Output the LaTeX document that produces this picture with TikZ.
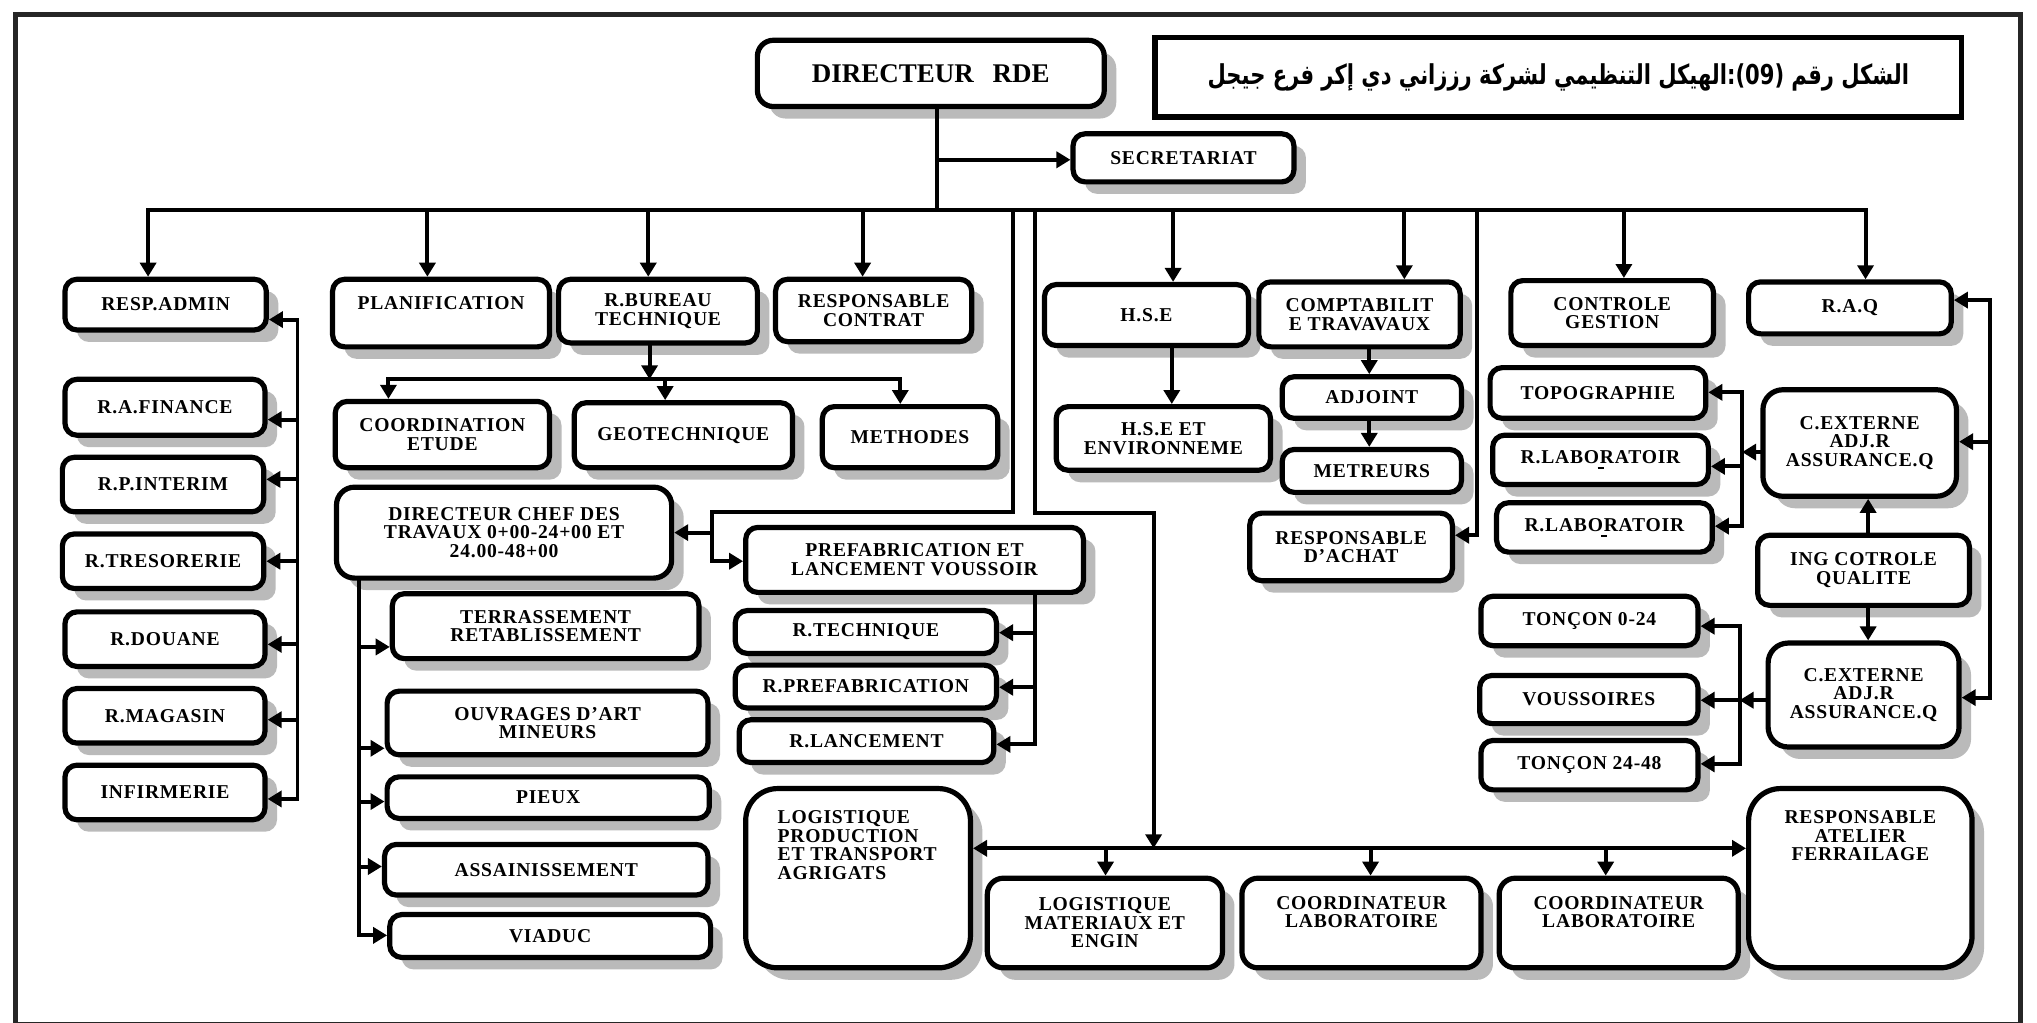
\documentclass[tikz,border=0pt]{standalone}
\usepackage{fontspec}
\setmainfont{Liberation Serif}
\newfontfamily\boxfont[LetterSpace=4]{Liberation Serif}
\newfontfamily\arabicfont[Script=Arabic]{DejaVu Sans}
\TeXXeTstate=1
\usetikzlibrary{arrows.meta,shadows}
% text block pinned to the top of a box: width, height (in picture units), top skip, content
\newcommand\topfill[4]{\parbox[c][\dimexpr0.65pt*#2\relax][t]{\dimexpr0.65pt*#1\relax}{\vspace*{#3}#4}}
\tikzset{
  box/.style={draw, line width=2.6pt, rounded corners=6pt, fill=white, align=center, inner sep=0pt,
    font=\boxfont\bfseries\fontsize{9.8}{9.3}\selectfont,
    drop shadow={shadow xshift=6pt, shadow yshift=-6pt, fill=black!27, opacity=1}},
  sz/.style 2 args={minimum width=#1*0.65pt, minimum height=#2*0.65pt},
  conn/.style={line width=2pt, line cap=rect},
  arr/.style={conn, -{Triangle[length=7pt,width=8pt]}},
  arrs/.style={conn, {Triangle[length=7pt,width=8pt]}-{Triangle[length=7pt,width=8pt]}},
}

\begin{document}
\begin{tikzpicture}[x=0.65pt,y=-0.65pt]
\useasboundingbox (0,0) rectangle (1568,787);
\fill[white] (0,0) rectangle (1568,787);
\draw[line width=2.6pt, black!85] (12,11) rectangle (1555,789);

% ---------- head ----------
\node[box, sz={267}{51}, rounded corners=8pt, font=\bfseries\fontsize{13.5}{15}\selectfont] (dir) at (716.5,56.5) {DIRECTEUR\hspace{0.7em}RDE};
\node[draw, line width=2.8pt, sz={621}{61}, inner sep=0pt] (title) at (1199.5,59.5)
  {\raisebox{-2pt}{\scalebox{0.77}[1]{\arabicfont\bfseries\fontsize{13.7}{15}\selectfont\beginR الشكل رقم \beginL(09)\endL:الهيكل التنظيمي لشركة رززاني دي إكر فرع جيجل\endR}}};
\node[box, sz={170}{37}] (sec) at (911,121.5) {SECRETARIAT};

% ---------- first level ----------
\node[box, sz={155}{39}] (radmin) at (127.5,234.5) {RESP.ADMIN};
\node[box, sz={167}{52}] (planif) at (339.5,241) {\topfill{167}{52}{8.4pt}{\centering PLANIFICATION}};
\node[box, sz={153}{49}] (rbureau) at (506.5,239.5) {R.BUREAU\\TECHNIQUE};
\node[box, sz={151}{48}] (rcontrat) at (672.5,239) {RESPONSABLE\\CONTRAT};
\node[box, sz={157}{47}] (hse) at (882.5,242.5) {H.S.E};
\node[box, sz={155}{50}] (compta) at (1046.5,242) {COMPTABILIT\\E TRAVAVAUX};
\node[box, sz={156}{50}] (ctrl) at (1241,241) {CONTROLE\\GESTION};
\node[box, sz={156}{40}] (raq) at (1424,237) {R.A.Q};

% ---------- administration column ----------
\node[box, sz={154}{43}] (rfin) at (127,313.5) {R.A.FINANCE};
\node[box, sz={155}{42}] (rint) at (125.5,373) {R.P.INTERIM};
\node[box, sz={155}{42}] (rtres) at (125.5,432) {R.TRESORERIE};
\node[box, sz={154}{42}] (rdou) at (127,492) {R.DOUANE};
\node[box, sz={154}{42}] (rmag) at (127,551) {R.MAGASIN};
\node[box, sz={154}{42}] (infi) at (127,610) {INFIRMERIE};

% ---------- technical office ----------
\node[box, sz={165}{51}] (coord) at (340.5,334.5) {COORDINATION\\ETUDE};
\node[box, sz={168}{50}] (geo) at (526,335) {GEOTECHNIQUE};
\node[box, sz={135}{47}] (meth) at (700.5,336.5) {METHODES};

% ---------- works ----------
\node[box, sz={258}{70}, rounded corners=9pt] (dct) at (388,410) {DIRECTEUR CHEF DES\\TRAVAUX 0+00-24+00 ET\\24.00-48+00};
\node[box, sz={236}{50}] (terr) at (420,482) {TERRASSEMENT\\RETABLISSEMENT};
\node[box, sz={247}{49}] (ouv) at (421.5,556.5) {OUVRAGES D’ART\\MINEURS};
\node[box, sz={248}{32}] (pieux) at (422,614) {PIEUX};
\node[box, sz={249}{39}] (assai) at (420.5,669.5) {ASSAINISSEMENT};
\node[box, sz={247}{33}] (viaduc) at (423.5,720.5) {VIADUC};

\node[box, sz={260}{50}] (prefab) at (704,431) {PREFABRICATION ET\\LANCEMENT VOUSSOIR};
\node[box, sz={201}{33}] (rtech) at (666.5,486.5) {R.TECHNIQUE};
\node[box, sz={201}{33}] (rpref) at (666.5,528.5) {R.PREFABRICATION};
\node[box, sz={196}{33}] (rlanc) at (667,570.5) {R.LANCEMENT};

% ---------- logistics row ----------
\node[box, sz={173}{138}, rounded corners=16pt] (logp) at (660.5,676)
  {\topfill{173}{138}{11pt}{\raggedright\leftskip=16pt LOGISTIQUE\\PRODUCTION\\ET TRANSPORT\\AGRIGATS}};
\node[box, sz={181}{69}, rounded corners=8pt] (logm) at (850.5,710.5) {LOGISTIQUE\\MATERIAUX ET\\ENGIN};
\node[box, sz={184}{69}, rounded corners=8pt] (coordA) at (1048,710.5) {\topfill{184}{69}{9pt}{\centering COORDINATEUR\\LABORATOIRE}};
\node[box, sz={184}{69}, rounded corners=8pt] (coordB) at (1246,710.5) {\topfill{184}{69}{9pt}{\centering COORDINATEUR\\LABORATOIRE}};
\node[box, sz={172}{138}, rounded corners=16pt] (ratel) at (1432,676)
  {\topfill{172}{138}{11pt}{\centering RESPONSABLE\\ATELIER\\FERRAILAGE}};

% ---------- HSE / accounting ----------
\node[box, sz={165}{49}] (hseenv) at (895.5,337.5) {H.S.E ET\\ENVIRONNEME};
\node[box, sz={138}{32}] (adj) at (1056,306) {ADJOINT};
\node[box, sz={138}{33}] (metr) at (1056,362.5) {METREURS};
\node[box, sz={156}{52}] (rachat) at (1040,421) {RESPONSABLE\\D’ACHAT};

% ---------- quality ----------
\node[box, sz={166}{39}] (topo) at (1230,302.5) {TOPOGRAPHIE};
\node[box, sz={166}{38}] (rlab1) at (1232,354) {R.LABORATOIR\\[-6.5pt]\rule{3pt}{1.1pt}};
\node[box, sz={166}{38}] (rlab2) at (1235,406) {R.LABORATOIR\\[-6.5pt]\rule{3pt}{1.1pt}};
\node[box, sz={149}{82}, rounded corners=10pt] (cext1) at (1431.5,341) {C.EXTERNE\\ADJ.R\\ASSURANCE.Q};
\node[box, sz={163}{54}] (ing) at (1434.5,439) {ING COTROLE\\QUALITE};
\node[box, sz={147}{80}, rounded corners=10pt] (cext2) at (1434.5,535) {C.EXTERNE\\ADJ.R\\ASSURANCE.Q};
\node[box, sz={167}{38}] (t024) at (1223.5,478) {TONÇON 0-24};
\node[box, sz={168}{37}] (vous) at (1223,538.5) {VOUSSOIRES};
\node[box, sz={167}{38}] (t2448) at (1223.5,589) {TONÇON 24-48};

% ---------- main trunk and bus ----------
\coordinate (tk) at (721,162);
\coordinate (sk) at (721,123);
\coordinate (d1) at (114,0);
\coordinate (d2) at (329,0);
\coordinate (d3) at (499,0);
\coordinate (d4) at (664,0);
\coordinate (d5) at (780,0);
\coordinate (d6) at (797,0);
\coordinate (d7) at (903,0);
\coordinate (d8) at (1081,0);
\coordinate (d9) at (1137,0);
\coordinate (d10) at (1250,0);
\coordinate (d11) at (1436,0);

\draw[conn] (dir.south -| tk) -- (tk);
\draw[arr] (sk) -- (sec.west |- sk);
\draw[arr] (tk) -| (d1 |- radmin.north);
\draw[arr] (tk) -| (d11 |- raq.north);
\draw[arr] (d2 |- tk) -- (d2 |- planif.north);
\draw[arr] (d3 |- tk) -- (d3 |- rbureau.north);
\draw[arr] (d4 |- tk) -- (d4 |- rcontrat.north);
\draw[arr] (d7 |- tk) -- (d7 |- hse.north);
\draw[arr] (d8 |- tk) -- (d8 |- compta.north);
\draw[arr] (d10 |- tk) -- (d10 |- ctrl.north);

% branch to the works director and prefabrication
\coordinate (j2) at (548,394);
\coordinate (j3) at (548,432);
\coordinate (j4) at (548,410);
\draw[arr] (d5 |- tk) |- (j2) -- (j3) -- (j3 -| prefab.west);
\draw[arr] (j4) -- (j4 -| dct.east);

% branch to the logistics row
\coordinate (k1) at (888,395);
\coordinate (bb) at (888,653);
\draw[arr] (d6 |- tk) |- (k1) -- (bb);
\draw[arrs] (bb -| logp.east) -- (bb -| ratel.west);
\coordinate (e1) at (851,0);
\coordinate (e2) at (1055,0);
\coordinate (e3) at (1236,0);
\draw[arr] (e1 |- bb) -- (e1 |- logm.north);
\draw[arr] (e2 |- bb) -- (e2 |- coordA.north);
\draw[arr] (e3 |- bb) -- (e3 |- coordB.north);

% branch to purchasing
\coordinate (m1) at (1137,412);
\draw[arr] (d9 |- tk) -- (m1) -- (m1 -| rachat.east);

% HSE and accounting chains
\coordinate (h1) at (902,0);
\draw[arr] (h1 |- hse.south) -- (h1 |- hseenv.north);
\coordinate (c1) at (1054,0);
\draw[arr] (c1 |- compta.south) -- (c1 |- adj.north);
\draw[arr] (c1 |- adj.south) -- (c1 |- metr.north);

% technical office
\coordinate (r1) at (500,292);
\coordinate (g1) at (299,0);
\coordinate (g2) at (512,0);
\coordinate (g3) at (693,0);
\draw[arr] (rbureau.south -| r1) -- (r1);
\draw[arr] (r1) -| (g1 |- coord.north);
\draw[arr] (r1) -| (g3 |- meth.north);
\draw[arr] (g2 |- r1) -- (g2 |- geo.north);

% works director's sections
\coordinate (t0) at (276,0);
\coordinate (tv) at (276,720);
\coordinate (ta) at (276,498);
\coordinate (tb) at (276,576);
\coordinate (tc) at (276,617);
\coordinate (td) at (276,667);
\draw[arr] (t0 |- dct.south) -- (tv) -- (tv -| viaduc.west);
\draw[arr] (ta) -- (ta -| terr.west);
\draw[arr] (tb) -- (tb -| ouv.west);
\draw[arr] (tc) -- (tc -| pieux.west);
\draw[arr] (td) -- (td -| assai.west);

% prefabrication sections
\coordinate (p0) at (797,0);
\coordinate (pa) at (797,487);
\coordinate (pb) at (797,529);
\coordinate (pc) at (797,573);
\draw[arr] (p0 |- prefab.south) -- (pc) -- (pc -| rlanc.east);
\draw[arr] (pa) -- (pa -| rtech.east);
\draw[arr] (pb) -- (pb -| rpref.east);

% administration column
\coordinate (l0) at (229,246);
\coordinate (l1) at (229,615);
\coordinate (la) at (229,323);
\coordinate (lb) at (229,369);
\coordinate (lc) at (229,432);
\coordinate (ld) at (229,496);
\coordinate (le) at (229,554);
\draw[arr] (l1) -- (l0) -- (l0 -| radmin.east);
\draw[arr] (l0) -- (l1) -- (l1 -| infi.east);
\draw[arr] (la) -- (la -| rfin.east);
\draw[arr] (lb) -- (lb -| rint.east);
\draw[arr] (lc) -- (lc -| rtres.east);
\draw[arr] (ld) -- (ld -| rdou.east);
\draw[arr] (le) -- (le -| rmag.east);

% quality: topography and laboratories
\coordinate (q0) at (1341,302);
\coordinate (q1) at (1341,405);
\coordinate (q2) at (1341,359);
\coordinate (q3) at (1341,348);
\draw[arr] (q1) -- (q0) -- (q0 -| topo.east);
\draw[arr] (q0) -- (q1) -- (q1 -| rlab2.east);
\draw[arr] (q2) -- (q2 -| rlab1.east);
\draw[arr] (cext1.west |- q3) -- (q3);

% quality control engineer
\coordinate (i0) at (1438,0);
\draw[arr] (i0 |- ing.north) -- (i0 |- cext1.south);
\draw[arr] (i0 |- ing.south) -- (i0 |- cext2.north);

% quality: right-hand link
\coordinate (v0) at (1532,231);
\coordinate (v1) at (1532,537);
\coordinate (v2) at (1532,340);
\draw[arr] (v1) -- (v0) -- (v0 -| raq.east);
\draw[arr] (v0) -- (v1) -- (v1 -| cext2.east);
\draw[arr] (v2) -- (v2 -| cext1.east);

% quality: sections
\coordinate (w0) at (1339,482);
\coordinate (w1) at (1339,588);
\coordinate (w2) at (1339,539);
\draw[arr] (w1) -- (w0) -- (w0 -| t024.east);
\draw[arr] (w0) -- (w1) -- (w1 -| t2448.east);
\draw[arr] (w2) -- (w2 -| vous.east);
\draw[arr] (cext2.west |- w2) -- (w2);
\end{tikzpicture}
\end{document}
